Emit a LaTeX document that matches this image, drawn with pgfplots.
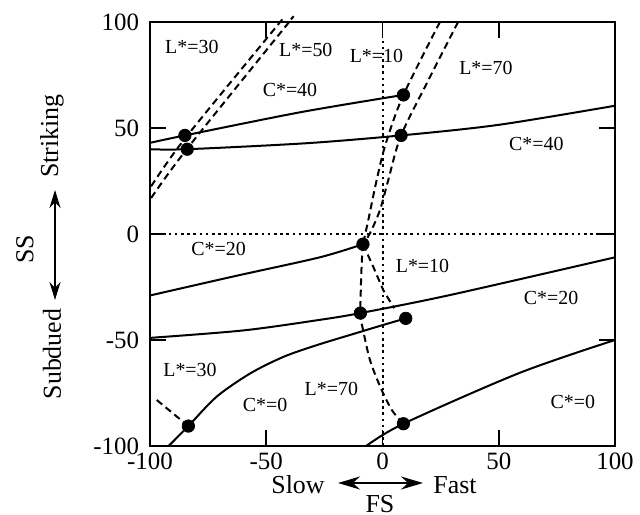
\documentclass[border=0pt]{standalone}
\usepackage{fontspec}
\setmainfont{Liberation Serif}
\usepackage{pgfplots}
\pgfplotsset{compat=1.18}
\usetikzlibrary{arrows.meta}

\begin{document}
\begin{tikzpicture}
\path[use as bounding box] (-75bp,-34.5bp) rectangle (245bp,223bp);
\begin{axis}[
    scale only axis,
    width=232.5bp, height=212bp,
    xmin=-100, xmax=100, ymin=-100, ymax=100,
    xtick={-100,-50,0,50,100}, xticklabels={-100,-50,0,50,100},
    ytick={-100,-50,0,50,100}, yticklabels={-100,-50,0,50,100},
    tick align=inside,
    major tick length=8bp,
    tick style={black, line width=0.8bp},
    axis line style={line width=1bp},
    ticklabel style={font=\fontsize{12.5}{14}\selectfont},
    yticklabel style={xshift=-2bp},
    clip=false,
    every node/.style={font=\fontsize{12}{14}\selectfont},
]
% reference lines
\addplot[black, line width=1bp, dash pattern=on 1.3bp off 1.8bp] coordinates {(-100,0) (100,0)};
\addplot[black, line width=1bp, dash pattern=on 1.3bp off 1.8bp] coordinates {(0,-100) (0,91)};

% C* lines (solid)
\addplot[black, line width=1bp, smooth] coordinates {(-100,43) (-85,46.5) (-35,57.5) (9,65.6)};
\addplot[black, line width=1bp, smooth] coordinates {(-100,40) (-84,40) (-33,42.8) (8,46.5) (50,51.5) (100,60.5)};
\addplot[black, line width=1bp, smooth] coordinates {(-100,-29) (-64,-20) (-27,-11) (-8.4,-4.8)};
\addplot[black, line width=1bp, smooth] coordinates {(-100,-49) (-60,-45.5) (-27,-40.5) (-9.5,-37.3) (29,-28.8) (100,-11)};
\addplot[black, line width=1bp, smooth] coordinates {(-92,-100) (-83.5,-90.6) (-71.3,-76.7) (-56.8,-65.7) (-42.5,-57.9) (-28.2,-52.4) (-13.9,-47.6) (0.3,-42.9) (10,-39.8)};
\addplot[black, line width=1bp, smooth] coordinates {(-7,-100) (9,-89.5) (59,-65.5) (100,-50)};

% L* lines (dashed)
\addplot[black, line width=1bp, dash pattern=on 3.5bp off 2.2bp, smooth] coordinates {(-99.5,22.5) (-85,45) (-45.5,98) (-44,100)};
\addplot[black, line width=1bp, dash pattern=on 3.5bp off 2.2bp, smooth] coordinates {(-99.5,17) (-84.2,40) (-41.2,98.6) (-40.3,100)};
\addplot[black, line width=1bp, dash pattern=on 3.5bp off 2.2bp, smooth] coordinates {(24.7,100) (9,65.6) (1.5,43) (-2.5,25.5) (-6.1,6.6) (-8.4,-4.8)};
\addplot[black, line width=1bp, dash pattern=on 3.5bp off 2.2bp, smooth] coordinates {(32.5,100) (20.4,74) (8,46.5) (2.5,25.5) (-1.1,11.3) (-5.4,0.3) (-8.4,-4.8)};
\addplot[black, line width=1bp, dash pattern=on 3.5bp off 2.2bp, smooth] coordinates {(-8.4,-4.8) (-9,-15.4) (-9.5,-37.3) (-8.4,-45) (-5.4,-59.4) (-1,-72) (4,-83) (9,-89.5)};
\addplot[black, line width=1bp, dash pattern=on 3.5bp off 2.2bp] coordinates {(-8.4,-4.8) (-4,-15.4) (0.3,-26.4) (5,-35)};
\addplot[black, line width=1bp, dash pattern=on 3.5bp off 2.2bp] coordinates {(-97.1,-78.3) (-83.5,-90.6)};

% intersection points
\addplot[only marks, mark=*, mark size=3.1bp, black] coordinates {
    (-85,46.5) (-84,40) (9,65.6) (8,46.5) (-8.4,-4.8)
    (-9.5,-37.3) (10,-39.8) (-83.5,-90.6) (9,-89.5)
};

\node at (axis cs:-82,88) {L*=30};
\node at (axis cs:-33,87) {L*=50};
\node at (axis cs:-2.6,84) {L*=10};
\node at (axis cs:44.5,78.3) {L*=70};
\node at (axis cs:-39.8,68) {C*=40};
\node at (axis cs:66.2,42.7) {C*=40};
\node at (axis cs:-70.5,-7) {C*=20};
\node at (axis cs:17.2,-15.3) {L*=10};
\node at (axis cs:72.5,-30) {C*=20};
\node at (axis cs:-82.8,-64) {L*=30};
\node at (axis cs:-50.5,-80.7) {C*=0};
\node at (axis cs:-22,-73) {L*=70};
\node at (axis cs:81.9,-79) {C*=0};
\end{axis}

\begin{scope}[every node/.style={font=\fontsize{13}{15}\selectfont, inner sep=0pt}]
\node[rotate=90] at (-49bp,155bp) {Striking};
\node[rotate=90] at (-49bp,46bp) {Subdued};
\node[rotate=90] at (-62.5bp,98.5bp) {SS};
\node at (74bp,-19.5bp) {Slow};
\node at (152.5bp,-19.5bp) {Fast};
\node at (115bp,-29bp) {FS};
\end{scope}
\draw[{Stealth[length=9bp,width=5.5bp]}-{Stealth[length=9bp,width=5.5bp]}, line width=1.1bp] (-47.5bp,73bp) -- (-47.5bp,128bp);
\draw[{Stealth[length=11bp,width=6.5bp]}-{Stealth[length=11bp,width=6.5bp]}, line width=1.1bp] (94bp,-18.5bp) -- (136.5bp,-18.5bp);
\end{tikzpicture}
\end{document}
